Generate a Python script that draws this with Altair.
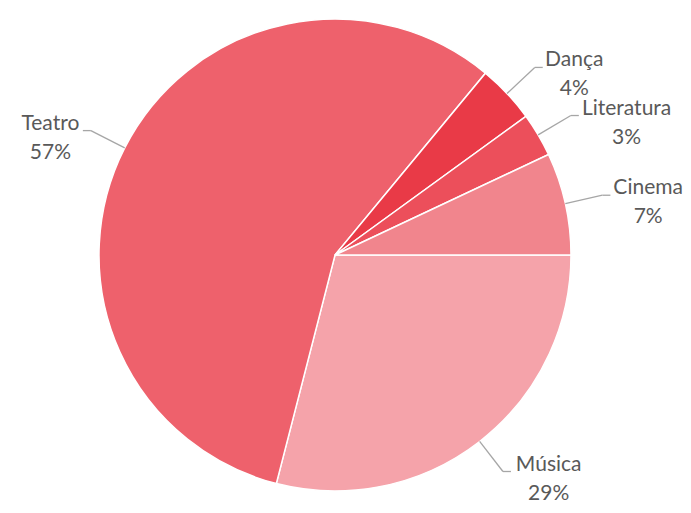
import math
import altair as alt
import pandas as pd

# Data (clockwise from 3 o'clock)
categories = ["Música", "Teatro", "Dança", "Literatura", "Cinema"]
values = [29, 57, 4, 3, 7]
slice_colors = ["#F5A3AA", "#EE616C", "#E93A47", "#EC4F5B", "#F1858D"]

df = pd.DataFrame({
    "cat": categories,
    "val": values,
    "ord": list(range(len(categories))),
    "pct": [f"{v}%" for v in values],
})

CX, CY = 327, 247       # pie centre in chart pixels
R = 236                 # pie radius
R_ELBOW = 274           # leader-line elbow radius
START = math.pi / 2     # start at 3 o'clock

base = alt.Chart(df)

pie = base.mark_arc(radius=R, stroke="white", strokeWidth=1.5).encode(
    theta=alt.Theta("val:Q", stack=True,
                    scale=alt.Scale(range=[START, START + 2 * math.pi])),
    order=alt.Order("ord:Q"),
    color=alt.Color("cat:N", scale=alt.Scale(domain=categories, range=slice_colors),
                    legend=None),
    x=alt.value(CX),
    y=alt.value(CY),
)

geo = base.transform_window(
    cum="sum(val)", sort=[alt.SortField("ord")], frame=[None, 0]
).transform_joinaggregate(
    total="sum(val)"
).transform_calculate(
    mid=f"((datum.cum - datum.val/2) / datum.total) * 2 * PI + {START}",
).transform_calculate(
    side="sin(datum.mid) >= 0 ? 1 : -1",
    x0=f"{CX} + {R} * sin(datum.mid)",
    y0=f"{CY} - {R} * cos(datum.mid)",
    x1=f"{CX} + {R_ELBOW} * sin(datum.mid)",
    y1=f"{CY} - {R_ELBOW} * cos(datum.mid)",
    nnar="length(datum.cat) - length(replace(datum.cat, regexp('[iltrj]', 'g'), ''))",
    nm="length(datum.cat) - length(replace(datum.cat, regexp('[mMw]', 'g'), ''))",
).transform_calculate(
    x2="datum.x1 + datum.side * 8",
    w="max(11 * length(datum.cat) - 4.5 * datum.nnar + 6 * datum.nm, 11 * length(datum.pct))",
).transform_calculate(
    xc="datum.x2 + datum.side * (4 + datum.w / 2)",
    yn="datum.y1 - 7",
    yp="datum.y1 + 22",
)

leader1 = geo.mark_rule(color="#A6A6A6", strokeWidth=1.3).encode(
    x=alt.X("x0:Q", scale=None), y=alt.Y("y0:Q", scale=None),
    x2="x1:Q", y2="y1:Q",
)
leader2 = geo.mark_rule(color="#A6A6A6", strokeWidth=1.3).encode(
    x=alt.X("x1:Q", scale=None), y=alt.Y("y1:Q", scale=None),
    x2="x2:Q", y2="y1:Q",
)

txt_style = dict(font="Lato", fontSize=21, color="#595959", align="center", baseline="middle")
name_txt = geo.mark_text(**txt_style).encode(
    x=alt.X("xc:Q", scale=None), y=alt.Y("yn:Q", scale=None), text="cat:N")
pct_txt = geo.mark_text(**txt_style).encode(
    x=alt.X("xc:Q", scale=None), y=alt.Y("yp:Q", scale=None), text="pct:N")

chart = alt.layer(pie, leader1, leader2, name_txt, pct_txt).properties(
    width=675, height=497, autosize="none", padding=0
).configure_view(stroke=None)

chart.save("out.html", embed_options={"renderer": "svg", "actions": False})
